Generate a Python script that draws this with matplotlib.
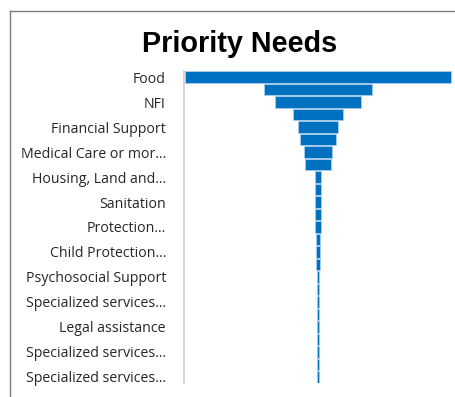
import matplotlib
matplotlib.use("Agg")
import matplotlib.pyplot as plt
from matplotlib.lines import Line2D

# Priority needs, share of respondents (%), ordered largest to smallest
values = [100, 40.6, 32.7, 18.8, 14.7, 13.9, 10.5, 9.9, 2.6, 2.4, 2.1, 2.0, 2.0,
          1.5, 1.2, 1.2, 1.0, 1.0, 0.75, 0.64, 0.64, 0.5, 0.5, 0.38, 0.38]

# Category axis shows every second label
tick_labels = ["Food", "NFI", "Financial Support", "Medical Care or mor...",
               "Housing, Land and...", "Sanitation", "Protection...",
               "Child Protection...", "Psychosocial Support",
               "Specialized services...", "Legal assistance",
               "Specialized services...", "Specialized services..."]

title = "Priority Needs"

W, H = 456, 397
fig = plt.figure(figsize=(W / 100, H / 100), dpi=100)

ax = fig.add_axes([184 / W, 1 - 383 / H, (452 - 184) / W, (383 - 71) / H])

n = len(values)
ypos = list(range(n))
lefts = [-v / 2 for v in values]
ax.barh(ypos, values, left=lefts, height=0.92, color="#0070c0",
        edgecolor="#a8cdee", linewidth=0.6)

ax.set_ylim(n - 0.5, -0.5)
ax.set_xlim(-50.4, 50.4)

ax.set_yticks(ypos[::2])
ax.set_yticklabels(tick_labels, fontsize=10.2, family=["Open Sans", "DejaVu Sans"],
                   color="#262626")
ax.tick_params(axis="y", length=0, pad=13)
ax.set_xticks([])

for side in ["top", "right", "bottom"]:
    ax.spines[side].set_visible(False)
ax.spines["left"].set_color("#d9d9d9")
ax.spines["left"].set_linewidth(1.5)

fig.text(239.5 / W, 1 - 43.5 / H, title, ha="center", va="center",
         fontsize=20.7, fontweight="bold", family=["Liberation Sans", "DejaVu Sans"],
         color="black")

# Outer chart frame
fig.add_artist(Line2D([10 / W, 1], [1 - 11 / H, 1 - 11 / H],
                      transform=fig.transFigure, color="#7f7f7f", linewidth=1))
fig.add_artist(Line2D([10 / W, 10 / W], [0, 1 - 11 / H],
                      transform=fig.transFigure, color="#7f7f7f", linewidth=1))

fig.savefig("out.png", dpi=100)
